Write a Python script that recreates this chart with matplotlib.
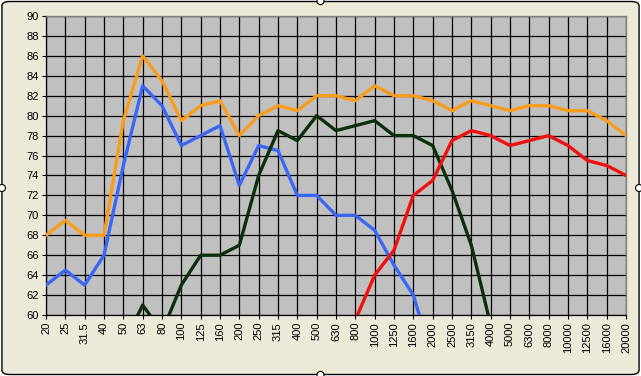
import numpy as np
import matplotlib
matplotlib.use('Agg')
import matplotlib.pyplot as plt
from matplotlib.patches import FancyBboxPatch, Circle

nan = np.nan

freqs = ['20', '25', '31.5', '40', '50', '63', '80', '100', '125', '160',
         '200', '250', '315', '400', '500', '630', '800', '1000', '1250', '1600',
         '2000', '2500', '3150', '4000', '5000', '6300', '8000', '10000', '12500',
         '16000', '20000']

orange = [68, 69.5, 68, 68, 79.5, 86, 83.5, 79.5, 81, 81.5,
          78, 80, 81, 80.5, 82, 82, 81.5, 83, 82, 82,
          81.5, 80.5, 81.5, 81, 80.5, 81, 81, 80.5, 80.5, 79.5, 78]

blue = [63, 64.5, 63, 66, 75, 83, 81, 77, 78, 79,
        73, 77, 76.5, 72, 72, 70, 70, 68.5, 65, 62,
        55.5, nan, nan, nan, nan, nan, nan, nan, nan, nan, nan]

green = [nan, nan, nan, nan, 57, 61, 58.3, 63, 66, 66,
         67, 74, 78.5, 77.5, 80, 78.5, 79, 79.5, 78, 78,
         77, 72.5, 67, 59, nan, nan, nan, nan, nan, nan, nan]

red = [nan, nan, nan, nan, nan, nan, nan, nan, nan, nan,
       nan, nan, nan, nan, nan, nan, 59.5, 64, 66.5, 72,
       73.5, 77.5, 78.5, 78, 77, 77.5, 78, 77, 75.5, 75, 74]

plt.rcParams['font.family'] = ['Liberation Sans', 'DejaVu Sans']

fig = plt.figure(figsize=(6.41, 3.76), dpi=100, facecolor='white')
# chart area with rounded border
fig.patches.append(FancyBboxPatch((0.003, 0.004), 0.994, 0.992,
                                  boxstyle='round,pad=0,rounding_size=0.012',
                                  transform=fig.transFigure, facecolor='#ECE9D8',
                                  edgecolor='black', linewidth=1.0, zorder=-5))
for hx, hy in [(0.5, 0.997), (0.5, 0.003), (0.003, 0.5), (0.997, 0.5)]:
    fig.patches.append(Circle((hx * 641, hy * 376), 3.5, transform=None,
                              facecolor='white', edgecolor='black',
                              linewidth=0.8, zorder=5))

ax = fig.add_axes([46 / 641, 1 - 315 / 376, 580 / 641, 299 / 376])
ax.set_facecolor('#C0C0C0')

x = np.arange(len(freqs))
ax.plot(x, orange, color='#FA9C1B', lw=2.4, solid_joinstyle='round', zorder=3)
ax.plot(x, blue, color='#3A66F5', lw=2.4, solid_joinstyle='round', zorder=3)
ax.plot(x, green, color='#0A300A', lw=2.4, solid_joinstyle='round', zorder=3)
ax.plot(x, red, color='#F01010', lw=2.4, solid_joinstyle='round', zorder=3)

ax.set_xlim(0, len(freqs) - 1)
ax.set_ylim(60, 90)
ax.set_xticks(x)
ax.set_xticklabels(freqs, rotation=90, fontsize=8)
ax.set_yticks(np.arange(60, 91, 2))
ax.tick_params(axis='y', labelsize=8, length=3, width=0.8, pad=2)
ax.tick_params(axis='x', length=3, width=0.8, pad=2)
ax.grid(True, color='black', linewidth=0.9)
ax.set_axisbelow(True)

for s in ['left', 'bottom']:
    ax.spines[s].set_color('black')
    ax.spines[s].set_linewidth(0.9)
for s in ['top', 'right']:
    ax.spines[s].set_color('#808080')
    ax.spines[s].set_linewidth(1.0)

fig.savefig('out.png', dpi=100, facecolor=fig.get_facecolor())
